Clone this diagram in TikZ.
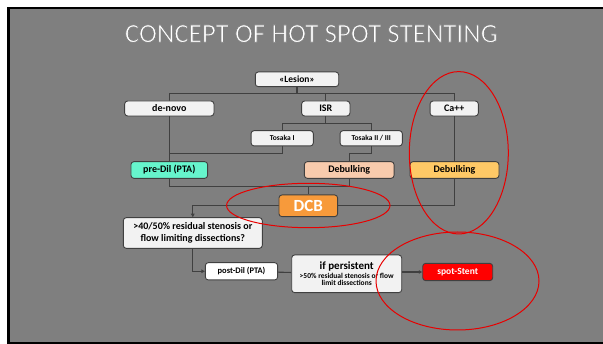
\documentclass[tikz,border=0pt]{standalone}
\usepackage{fontspec}
\setmainfont{Carlito}
\usetikzlibrary{arrows.meta}
\pgfdeclarelayer{back}
\pgfdeclarelayer{lines}
\pgfsetlayers{back,lines,main}
\definecolor{slidegray}{HTML}{7F7F7F}
\definecolor{linegray}{HTML}{404040}
\definecolor{boxlight}{HTML}{F2F2F2}
\definecolor{aqua}{HTML}{66F5CC}
\definecolor{peach}{HTML}{F8CBAD}
\definecolor{gold}{HTML}{FFC966}
\definecolor{dcborange}{HTML}{F79A3B}
\definecolor{ringred}{HTML}{E80000}
\newcommand{\fsz}[1]{\fontsize{#1}{#1}\selectfont}
\newcommand{\thintext}[1]{\special{pdf:literal direct 2 Tr 0.7 w 0.498 0.498 0.498 RG}#1\special{pdf:literal direct 0 Tr 0 w}}
\tikzset{
  box/.style={draw=linegray, line width=0.9pt, rounded corners=3pt, fill=boxlight,
    inner sep=0pt, align=center, text=black},
  conn/.style={draw=linegray, line width=1.1pt},
  tip/.style={-{Triangle[length=3.5pt,width=3.5pt]}},
  ring/.style={draw=ringred, line width=1pt},
}
\begin{document}
\begin{tikzpicture}[x=1pt,y=-1pt]
\useasboundingbox (0,0) rectangle (603,344);
\begin{pgfonlayer}{back}
  \fill[white] (0,0) rectangle (603,344);
  \fill[black] (7,7) rectangle (603,344);
  \fill[slidegray] (9.5,9.5) rectangle (603,342.5);
\end{pgfonlayer}

\node[text=white, font=\fsz{27}, anchor=base, inner sep=0pt] (title) at (311.3,42.3) {\thintext{CONCEPT OF HOT SPOT STENTING}};

\node[box, minimum width=83.4pt, minimum height=14.7pt, font=\bfseries\fsz{9.5}] (lesion) at (297,79.3) {«Lesion»};
\node[box, minimum width=89.3pt, minimum height=15pt, font=\bfseries\fsz{10}] (denovo) at (169.3,108.5) {de-novo};
\node[box, minimum width=48.3pt, minimum height=15pt, font=\bfseries\fsz{10}] (isr) at (325.8,108.5) {ISR};
\node[box, minimum width=48.3pt, minimum height=15pt, font=\bfseries\fsz{10}] (capp) at (454.2,108.5) {Ca++};
\node[box, minimum width=62.3pt, minimum height=15.3pt, font=\bfseries\fsz{7.5}] (tosI) at (282.2,138.3) {Tosaka I};
\node[box, minimum width=62.3pt, minimum height=15.3pt, font=\bfseries\fsz{7.5}] (tosII) at (371.2,138.3) {Tosaka II / III};
\node[box, fill=aqua, minimum width=76.7pt, minimum height=16.7pt, font=\bfseries\fsz{10}] (predil) at (169.3,170) {pre-Dil (PTA)};
\node[box, fill=peach, minimum width=89.7pt, minimum height=16.7pt, font=\bfseries\fsz{10}] (debp) at (349.2,170) {Debulking};
\node[box, fill=gold, minimum width=89pt, minimum height=16.7pt, font=\bfseries\fsz{10}] (deby) at (454.5,170) {Debulking};
\node[box, fill=dcborange, text=white, minimum width=58.7pt, minimum height=21.7pt, font=\bfseries\fsz{17}] (dcb) at (308.3,205.8) {DCB};
\node[box, minimum width=139pt, minimum height=30.7pt, font=\bfseries\fontsize{10}{11.6}\selectfont] (quest) at (192.8,233) {>40/50\% residual stenosis or\\flow limiting dissections?};
\node[box, fill=white, minimum width=72.3pt, minimum height=17.3pt, font=\bfseries\fsz{8.5}] (postdil) at (241.5,271.3) {post-Dil (PTA)};
\node[box, minimum width=110pt, minimum height=37.7pt, font=\bfseries\fontsize{7.5}{7.2}\selectfont] (ifp) at (346.7,273.8) {{\fsz{11}if persistent}\\[1pt]>50\% residual stenosis or flow\\limit dissections};
\node[box, fill=red, text=white, minimum width=70pt, minimum height=17.3pt, font=\bfseries\fsz{9.5}] (spot) at (457.7,272) {spot-Stent};

\coordinate (bus) at (297,93.3);
\coordinate (isrbus) at (325.8,123.3);
\coordinate (j1) at (169.3,153.3);
\coordinate (j2) at (371.2,153.3);
\coordinate (j3) at (308.3,186.7);

\begin{pgfonlayer}{lines}
  \draw[conn] (lesion) -- (bus);
  \draw[conn] (denovo) |- (bus) -| (isr);
  \draw[conn] (dcb) -| (capp) |- (bus);
  \draw[conn] (isr) -- (isrbus);
  \draw[conn] (tosI) |- (isrbus) -| (tosII);
  \draw[conn] (denovo) -- (predil);
  \draw[conn] (tosI) |- (j1);
  \draw[conn] (tosII) -- (j2) -| (debp);
  \draw[conn] (predil) |- (j3) -| (debp);
  \draw[conn] (j3) -- (dcb);
  \draw[conn,tip] (dcb) -| (quest.north);
  \draw[conn,tip] (quest.south) |- (postdil.west);
  \draw[conn] (postdil) -- (ifp);
  \draw[conn,tip] (ifp.east |- spot) -- (spot.west);
\end{pgfonlayer}

\draw[ring] (458.8,152.8) ellipse [x radius=49.5pt, y radius=81.2pt];
\draw[ring] (308.3,205.5) ellipse [x radius=81.7pt, y radius=22.2pt];
\draw[ring] (457.5,281) ellipse [x radius=81.5pt, y radius=49pt];
\end{tikzpicture}
\end{document}
